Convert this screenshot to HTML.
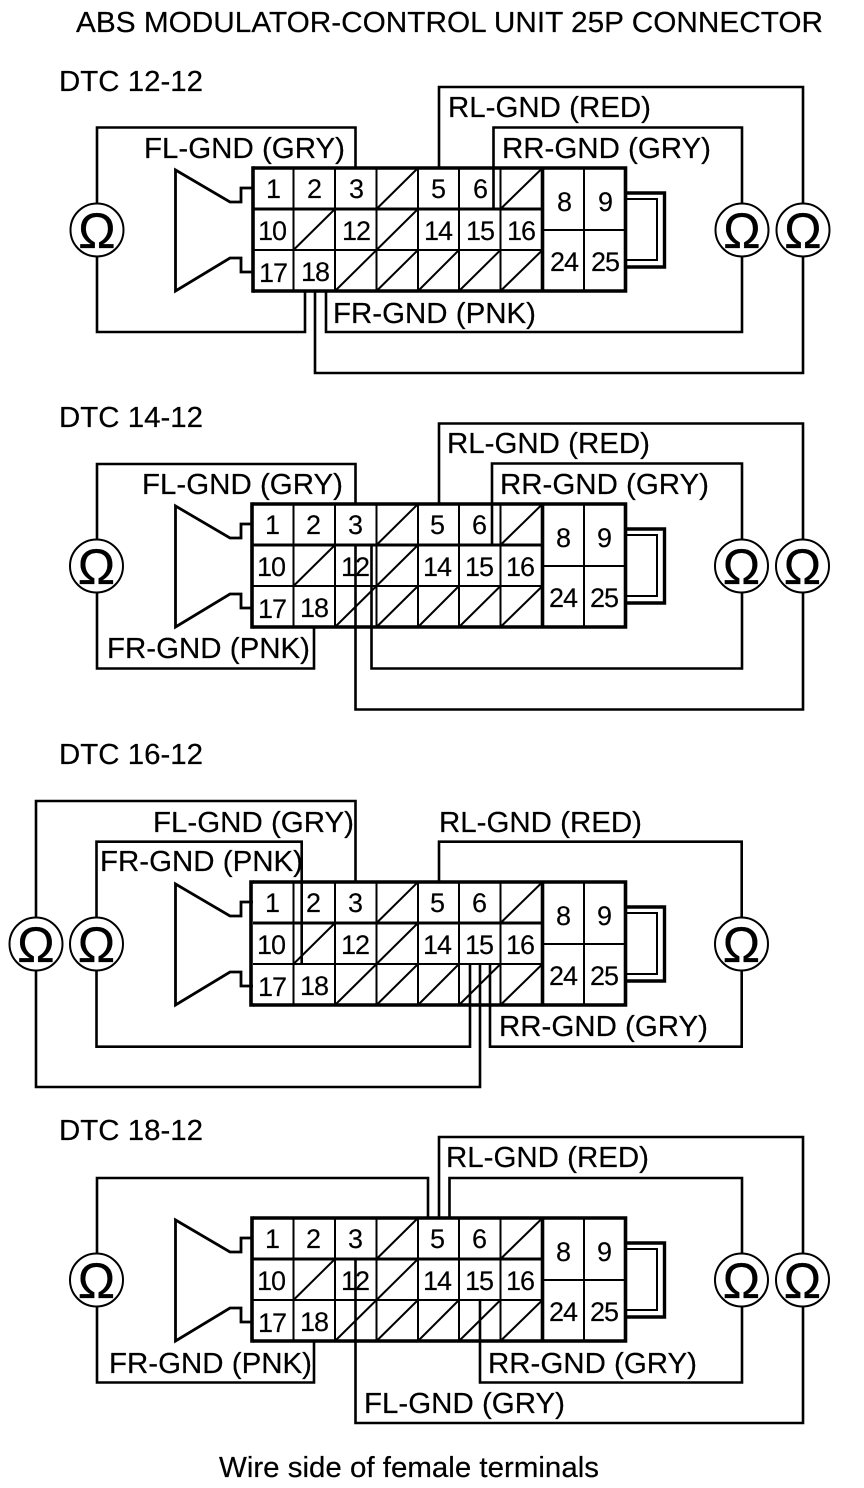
<!DOCTYPE html>
<html><head><meta charset="utf-8"><style>
html,body{margin:0;padding:0;background:#fff}
svg{display:block}
text{font-family:"Liberation Sans",sans-serif;fill:#000}
.l{font-size:29px;stroke:#000;stroke-width:.2}
.n{font-size:27px;text-anchor:middle;letter-spacing:-1px;stroke:#000;stroke-width:.15}
.o{font-size:50px;text-anchor:middle;stroke:#000;stroke-width:.3}
.w{fill:none;stroke:#000;stroke-width:2.6;stroke-linejoin:miter}
.t{fill:none;stroke:#000;stroke-width:2}
.k{fill:none;stroke:#000;stroke-width:3.6}
</style></head><body>
<svg width="864" height="1488" viewBox="0 0 864 1488" xmlns="http://www.w3.org/2000/svg">
<defs>
<g id="c">
<path class="t" d="M293.500 168V291M335 168V291M376.500 168V291M418 168V291M459 168V291M500.500 168V291M584 168V291"/>
<path class="k" d="M253 168H625.500V291H253M542.500 168V291"/>
<path class="k" d="M253 209H542.500" style="stroke-width:3"/>
<path class="t" d="M253 250H542.500M542.500 230H625.500"/>
<path class="t" d="M376.500 209L418 168M500.500 209L542.500 168M293.500 250L335 209M376.500 250L418 209M335 291L376.500 250M376.500 291L418 250M418 291L459 250M459 291L500.500 250M500.500 291L542.500 250"/>
<path class="k" d="M625 193H664.500V267H625" style="stroke-width:3.4"/>
<path class="t" d="M625 199H657V260H625"/>
<path class="k" style="stroke-width:2.8" d="M253 188H241V202H230L175.500 170V291L230 258H241V272H253"/>
</g>
<g id="om"><circle r="26.500" fill="#fff" stroke="#000" stroke-width="2"/></g>
</defs>
<rect width="864" height="1488" fill="#fff"/>

<text class="l" x="76" y="32" textLength="747" lengthAdjust="spacingAndGlyphs">ABS MODULATOR-CONTROL UNIT 25P CONNECTOR</text>

<!-- Panel 1 -->
<text class="l" x="59" y="91" textLength="144" lengthAdjust="spacingAndGlyphs">DTC 12-12</text>
<path class="w" d="M97 230V127.500H355.500V168M97 230V332H305V291"/>
<path class="w" d="M326 291V332H742V127.500H493.500V209"/>
<path class="w" d="M439 168V87H803V373H315V291"/>
<use href="#c"/>
<path class="k" d="M253 166.200V292.800"/>
<use href="#om" x="97" y="230"/><use href="#om" x="742" y="230"/><use href="#om" x="803" y="230"/>
<text class="o" x="97" y="248">Ω</text><text class="o" x="742" y="248">Ω</text><text class="o" x="803" y="248">Ω</text>
<text class="l" x="144" y="158" textLength="201" lengthAdjust="spacingAndGlyphs">FL-GND (GRY)</text>
<text class="l" x="448" y="117" textLength="203" lengthAdjust="spacingAndGlyphs">RL-GND (RED)</text>
<text class="l" x="502" y="158" textLength="209" lengthAdjust="spacingAndGlyphs">RR-GND (GRY)</text>
<text class="l" x="333" y="323" textLength="203" lengthAdjust="spacingAndGlyphs">FR-GND (PNK)</text>
<g>
<text class="n" x="273" y="198">1</text><text class="n" x="314" y="198">2</text><text class="n" x="356" y="198">3</text><text class="n" x="438" y="198">5</text><text class="n" x="480" y="198">6</text>
<text class="n" x="272" y="240">10</text><text class="n" x="356" y="240">12</text><text class="n" x="438" y="240">14</text><text class="n" x="480" y="240">15</text><text class="n" x="521" y="240">16</text>
<text class="n" x="273" y="282">17</text><text class="n" x="315" y="281">18</text>
<text class="n" x="564" y="211">8</text><text class="n" x="605" y="211">9</text><text class="n" x="564" y="271">24</text><text class="n" x="605" y="271">25</text>
</g>

<!-- Panel 2 -->
<text class="l" x="59" y="427" textLength="144" lengthAdjust="spacingAndGlyphs">DTC 14-12</text>
<path class="w" d="M97 566V464H355.500V504M97 566V668.500H314V627"/>
<use href="#c" y="336"/>
<path class="k" d="M252 502.200V628.800M252 504H254M252 627H254"/>
<path class="w" d="M371.500 545V668.500H742V463.500H492V545"/>
<path class="w" d="M439 504V423.500H803V709.500H355.500V545"/>
<use href="#om" x="96.500" y="566"/><use href="#om" x="741.500" y="566"/><use href="#om" x="802.500" y="566"/>
<text class="o" x="96.500" y="584">Ω</text><text class="o" x="741.500" y="584">Ω</text><text class="o" x="802.500" y="584">Ω</text>
<text class="l" x="142" y="494" textLength="201" lengthAdjust="spacingAndGlyphs">FL-GND (GRY)</text>
<text class="l" x="447" y="453" textLength="203" lengthAdjust="spacingAndGlyphs">RL-GND (RED)</text>
<text class="l" x="500" y="494" textLength="209" lengthAdjust="spacingAndGlyphs">RR-GND (GRY)</text>
<text class="l" x="107" y="658" textLength="203" lengthAdjust="spacingAndGlyphs">FR-GND (PNK)</text>
<g transform="translate(-1 336)">
<text class="n" x="273" y="198">1</text><text class="n" x="314" y="198">2</text><text class="n" x="356" y="198">3</text><text class="n" x="438" y="198">5</text><text class="n" x="480" y="198">6</text>
<text class="n" x="272" y="240">10</text><text class="n" x="356" y="240">12</text><text class="n" x="438" y="240">14</text><text class="n" x="480" y="240">15</text><text class="n" x="521" y="240">16</text>
<text class="n" x="273" y="282">17</text><text class="n" x="315" y="281">18</text>
<text class="n" x="564" y="211">8</text><text class="n" x="605" y="211">9</text><text class="n" x="564" y="271">24</text><text class="n" x="605" y="271">25</text>
</g>

<!-- Panel 3 -->
<text class="l" x="59" y="764" textLength="144" lengthAdjust="spacingAndGlyphs">DTC 16-12</text>
<use href="#c" y="714"/>
<path class="k" d="M251 880.200V1006.800M251 882H254M251 1005H254"/>
<path class="w" d="M36 944V801H355.500V881M36 944V1087H480V965"/>
<path class="w" d="M96.500 944V841.700H301.700V964M96.500 944V1046.700H470V965"/>
<path class="w" d="M439 881V841.700H741.700V1046.700H490V965"/>
<use href="#om" x="36" y="944"/><use href="#om" x="96.500" y="944"/><use href="#om" x="741.500" y="944"/>
<text class="o" x="36" y="962">Ω</text><text class="o" x="96.500" y="962">Ω</text><text class="o" x="741.500" y="962">Ω</text>
<text class="l" x="153" y="832" textLength="201" lengthAdjust="spacingAndGlyphs">FL-GND (GRY)</text>
<text class="l" x="439" y="832" textLength="203" lengthAdjust="spacingAndGlyphs">RL-GND (RED)</text>
<text class="l" x="499" y="1036" textLength="209" lengthAdjust="spacingAndGlyphs">RR-GND (GRY)</text>
<text class="l" x="100" y="871" textLength="203" lengthAdjust="spacingAndGlyphs">FR-GND (PNK)</text>
<g transform="translate(-1 714)">
<text class="n" x="273" y="198">1</text><text class="n" x="314" y="198">2</text><text class="n" x="356" y="198">3</text><text class="n" x="438" y="198">5</text><text class="n" x="480" y="198">6</text>
<text class="n" x="272" y="240">10</text><text class="n" x="356" y="240">12</text><text class="n" x="438" y="240">14</text><text class="n" x="480" y="240">15</text><text class="n" x="521" y="240">16</text>
<text class="n" x="273" y="282">17</text><text class="n" x="315" y="281">18</text>
<text class="n" x="564" y="211">8</text><text class="n" x="605" y="211">9</text><text class="n" x="564" y="271">24</text><text class="n" x="605" y="271">25</text>
</g>

<!-- Panel 4 -->
<text class="l" x="59" y="1140" textLength="144" lengthAdjust="spacingAndGlyphs">DTC 18-12</text>
<use href="#c" y="1050"/>
<path class="k" d="M252 1216.200V1342.800M252 1218H254M252 1341H254"/>
<path class="w" d="M97 1280V1178H428V1218M97 1280V1382.500H314V1341"/>
<path class="w" d="M439 1218V1137H803V1423H355.500V1259"/>
<path class="w" d="M449.500 1218V1178H742V1382.500H480V1301"/>
<use href="#om" x="96.500" y="1280"/><use href="#om" x="741.500" y="1280"/><use href="#om" x="802.500" y="1280"/>
<text class="o" x="96.500" y="1298">Ω</text><text class="o" x="741.500" y="1298">Ω</text><text class="o" x="802.500" y="1298">Ω</text>
<text class="l" x="446" y="1167" textLength="203" lengthAdjust="spacingAndGlyphs">RL-GND (RED)</text>
<text class="l" x="109" y="1373" textLength="203" lengthAdjust="spacingAndGlyphs">FR-GND (PNK)</text>
<text class="l" x="488" y="1373" textLength="209" lengthAdjust="spacingAndGlyphs">RR-GND (GRY)</text>
<text class="l" x="364" y="1413" textLength="201" lengthAdjust="spacingAndGlyphs">FL-GND (GRY)</text>
<g transform="translate(-1 1050)">
<text class="n" x="273" y="198">1</text><text class="n" x="314" y="198">2</text><text class="n" x="356" y="198">3</text><text class="n" x="438" y="198">5</text><text class="n" x="480" y="198">6</text>
<text class="n" x="272" y="240">10</text><text class="n" x="356" y="240">12</text><text class="n" x="438" y="240">14</text><text class="n" x="480" y="240">15</text><text class="n" x="521" y="240">16</text>
<text class="n" x="273" y="282">17</text><text class="n" x="315" y="281">18</text>
<text class="n" x="564" y="211">8</text><text class="n" x="605" y="211">9</text><text class="n" x="564" y="271">24</text><text class="n" x="605" y="271">25</text>
</g>

<text class="l" x="219" y="1477" textLength="380" lengthAdjust="spacingAndGlyphs">Wire side of female terminals</text>
</svg>
</body></html>
